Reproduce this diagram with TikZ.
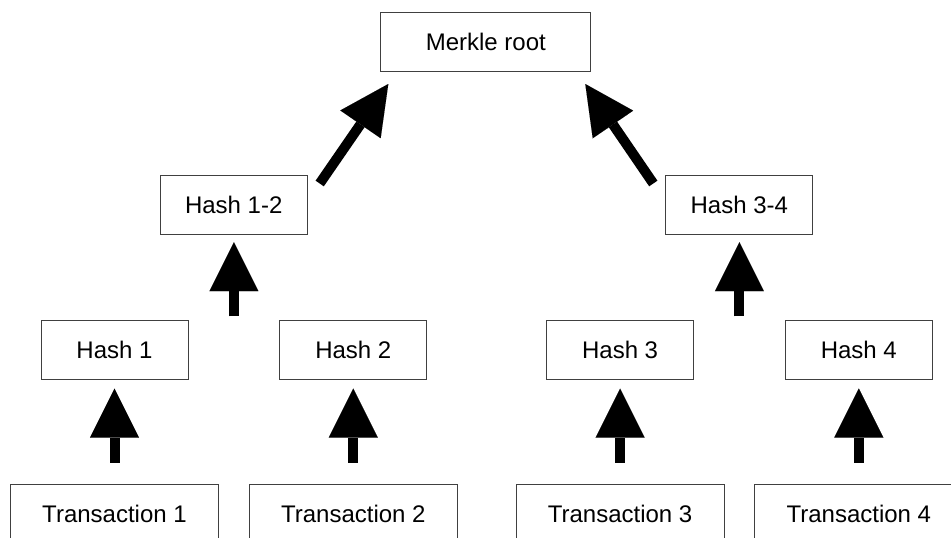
\documentclass[tikz,border=0pt]{standalone}
\usepackage{fontspec}
\setmainfont{Liberation Sans}
\usetikzlibrary{arrows.meta,calc}
\begin{document}
\begin{tikzpicture}[x=1pt,y=-1pt,
  box/.style={draw=black!75, line width=1pt, fill=white, minimum height=59pt, inner sep=0pt, font=\fontsize{24}{28}\selectfont},
  hashbox/.style={box, minimum width=147pt},
  txbox/.style={box, minimum width=208pt},
  bigarrow/.style={line width=10pt, -{Triangle[width=49pt,length=49pt,line width=0.01pt]}}
]
\useasboundingbox (0,0) rectangle (951,538);
% nodes
\node[box, minimum width=210pt] (root) at (485.8,42) {Merkle root};
\node[hashbox] (h12) at (233.7,204.5) {Hash 1-2};
\node[hashbox] (h34) at (739.3,204.5) {Hash 3-4};
\node[hashbox] (h1) at (114.5,350.3) {Hash 1};
\node[hashbox] (h2) at (353.3,350.3) {Hash 2};
\node[hashbox] (h3) at (620.1,350.3) {Hash 3};
\node[hashbox] (h4) at (858.8,350.3) {Hash 4};
\node[txbox] (t1) at (114.5,513.8) {Transaction 1};
\node[txbox] (t2) at (353.3,513.8) {Transaction 2};
\node[txbox] (t3) at (620.1,513.8) {Transaction 3};
\node[txbox] (t4) at (858.8,513.8) {Transaction 4};
% connectors
\foreach \a/\b in {t1/h1,t2/h2,t3/h3,t4/h4}
  \draw[bigarrow, shorten <=21pt, shorten >=8.3pt] (\a) -- (\b);
\coordinate (m12) at ($(h1.north)!0.5!(h2.north)$);
\coordinate (m34) at ($(h3.north)!0.5!(h4.north)$);
\draw[bigarrow, shorten <=4pt, shorten >=7.7pt] (m12) -- (m12 |- h12.south);
\draw[bigarrow, shorten <=4pt, shorten >=7.7pt] (m34) -- (m34 |- h34.south);
\draw[bigarrow] ([shift={(12,9)}]h12.north east) -- ([shift={(8,12)}]root.south west);
\draw[bigarrow] ([shift={(-12,9)}]h34.north west) -- ([shift={(-6,12)}]root.south east);
\end{tikzpicture}
\end{document}
